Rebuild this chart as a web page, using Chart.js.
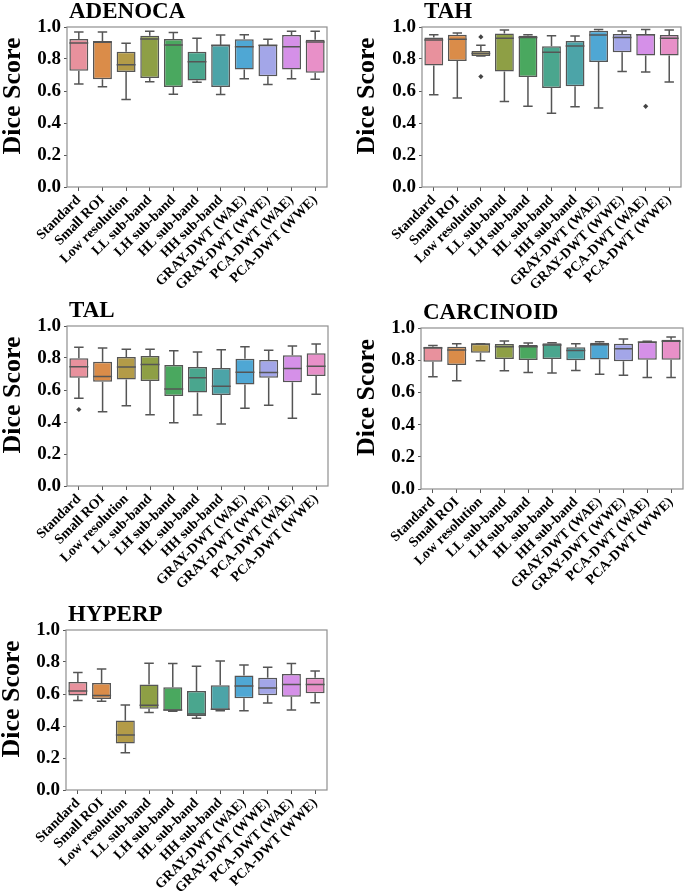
<!DOCTYPE html>
<html>
<head>
<meta charset="utf-8">
<script src="https://cdn.jsdelivr.net/npm/chart.js@4.4.1/dist/chart.umd.min.js"></script>
<style>
  html, body { margin: 0; padding: 0; background: #ffffff; }
  body { width: 685px; height: 895px; position: relative; overflow: hidden; }
  .panel { position: absolute; }
</style>
</head>
<body>
<div class="panel" id="pA" style="left:0px;top:0px;width:340px;height:300px;"><canvas id="cA"></canvas></div>
<div class="panel" id="pB" style="left:340px;top:0px;width:345px;height:300px;"><canvas id="cB"></canvas></div>
<div class="panel" id="pC" style="left:0px;top:299px;width:340px;height:300px;"><canvas id="cC"></canvas></div>
<div class="panel" id="pD" style="left:340px;top:301px;width:345px;height:300px;"><canvas id="cD"></canvas></div>
<div class="panel" id="pE" style="left:0px;top:603px;width:340px;height:292px;"><canvas id="cE"></canvas></div>
<script>
// ---------- data ----------
const categories = ['Standard','Small ROI','Low resolution','LL sub-band','LH sub-band','HL sub-band','HH sub-band','GRAY-DWT (WAE)','GRAY-DWT (WWE)','PCA-DWT (WAE)','PCA-DWT (WWE)'];
const yTicks = [0.0, 0.2, 0.4, 0.6, 0.8, 1.0];
const boxColors = ['#E8919D','#DA8C49','#B39B48','#8E9F45','#4AA85F','#4AA68E','#4CA4A8','#4FA7D4','#A3A6E8','#D590E8','#E890C8'];

const adenocaLow  = [0.644,0.627,0.547,0.658,0.580,0.654,0.578,0.677,0.640,0.677,0.673];
const adenocaQ1   = [0.727,0.673,0.718,0.681,0.625,0.665,0.625,0.735,0.692,0.735,0.714];
const adenocaMed  = [0.900,0.905,0.764,0.925,0.888,0.783,0.886,0.876,0.886,0.876,0.907];
const adenocaQ3   = [0.925,0.913,0.845,0.946,0.925,0.845,0.888,0.923,0.888,0.950,0.921];
const adenocaHigh = [0.969,0.969,0.899,0.973,0.965,0.930,0.950,0.952,0.923,0.973,0.973];
const adenocaOut  = [];

const tahLow  = [0.577,0.556,0.818,0.535,0.504,0.461,0.502,0.494,0.722,0.718,0.656];
const tahQ1   = [0.759,0.788,0.819,0.722,0.687,0.618,0.629,0.782,0.842,0.822,0.822];
const tahMed  = [0.919,0.923,0.835,0.929,0.934,0.842,0.882,0.950,0.934,0.952,0.929];
const tahQ3   = [0.934,0.952,0.850,0.959,0.946,0.880,0.913,0.977,0.956,0.956,0.950];
const tahHigh = [0.952,0.963,0.886,0.981,0.952,0.946,0.944,0.985,0.975,0.985,0.981];
const tahOut  = [{x:'Low resolution', y:0.938},{x:'Low resolution', y:0.690},{x:'PCA-DWT (WAE)', y:0.504}];

const talLow  = [0.549,0.464,0.501,0.445,0.395,0.443,0.387,0.486,0.505,0.424,0.574];
const talQ1   = [0.676,0.651,0.665,0.657,0.563,0.584,0.568,0.634,0.676,0.649,0.688];
const talMed  = [0.746,0.684,0.744,0.759,0.607,0.676,0.624,0.711,0.709,0.734,0.748];
const talQ3   = [0.798,0.776,0.807,0.813,0.757,0.744,0.738,0.796,0.788,0.817,0.830];
const talHigh = [0.867,0.863,0.854,0.854,0.846,0.838,0.852,0.871,0.848,0.875,0.888];
const talOut  = [{x:'Standard', y:0.478}];

const carcLow  = [0.697,0.672,0.797,0.734,0.724,0.720,0.736,0.712,0.707,0.693,0.693];
const carcQ1   = [0.790,0.770,0.846,0.807,0.801,0.807,0.799,0.805,0.793,0.803,0.803];
const carcMed  = [0.876,0.863,0.900,0.884,0.884,0.894,0.861,0.896,0.871,0.913,0.917];
const carcQ3   = [0.884,0.884,0.902,0.900,0.894,0.905,0.880,0.909,0.902,0.915,0.927];
const carcHigh = [0.892,0.902,0.902,0.919,0.907,0.909,0.902,0.915,0.932,0.917,0.944];
const carcOut  = [];

const hypLow  = [0.560,0.554,0.233,0.485,0.492,0.448,0.496,0.496,0.544,0.500,0.546];
const hypQ1   = [0.590,0.569,0.290,0.508,0.496,0.463,0.500,0.573,0.592,0.583,0.604];
const hypMed  = [0.619,0.590,0.344,0.529,0.500,0.475,0.504,0.650,0.638,0.660,0.660];
const hypQ3   = [0.675,0.669,0.435,0.660,0.642,0.619,0.654,0.715,0.702,0.725,0.702];
const hypHigh = [0.735,0.756,0.531,0.792,0.790,0.773,0.806,0.781,0.767,0.790,0.744];
const hypOut  = [];

// ---------- drawing ----------
const SERIF = '"Liberation Serif", "Times New Roman", serif';
const LINE = '#555555';
const FRAME = '#8f8f8f';

function boxPlugin(p) {
  return {
    id: 'boxparts_' + p.canvas,
    afterDatasetsDraw(chart) {
      const ctx = chart.ctx;
      const y = chart.scales.y;
      const meta = chart.getDatasetMeta(0);
      ctx.save();
      ctx.strokeStyle = LINE;
      ctx.lineWidth = 1.5;
      meta.data.forEach((bar, i) => {
        const props = bar.getProps(['x', 'width'], true);
        const cx = props.x, w = props.width;
        const yLow = y.getPixelForValue(p.low[i]);
        const yQ1 = y.getPixelForValue(p.q1[i]);
        const yQ3 = y.getPixelForValue(p.q3[i]);
        const yHigh = y.getPixelForValue(p.high[i]);
        const yMed = y.getPixelForValue(p.med[i]);
        ctx.beginPath();
        ctx.moveTo(cx, yQ1); ctx.lineTo(cx, yLow);
        ctx.moveTo(cx, yQ3); ctx.lineTo(cx, yHigh);
        ctx.moveTo(cx - w / 4, yLow); ctx.lineTo(cx + w / 4, yLow);
        ctx.moveTo(cx - w / 4, yHigh); ctx.lineTo(cx + w / 4, yHigh);
        ctx.moveTo(cx - w / 2, yMed); ctx.lineTo(cx + w / 2, yMed);
        ctx.stroke();
      });
      ctx.restore();
    },
    afterDraw(chart) {
      const ctx = chart.ctx;
      const a = chart.chartArea;
      ctx.save();
      ctx.strokeStyle = FRAME;
      ctx.lineWidth = 1.2;
      ctx.strokeRect(a.left, a.top, a.right - a.left, a.bottom - a.top);
      ctx.fillStyle = '#000';
      ctx.font = 'bold 23px ' + SERIF;
      ctx.textAlign = 'left';
      ctx.textBaseline = 'alphabetic';
      ctx.fillText(p.title, a.left + 2, a.top - 9);
      ctx.font = 'bold 26px ' + SERIF;
      ctx.textAlign = 'center';
      ctx.textBaseline = 'middle';
      ctx.translate(p.ylabelX, (a.top + a.bottom) / 2 - 11);
      ctx.rotate(-Math.PI / 2);
      ctx.fillText('Dice Score', 0, 0);
      ctx.restore();
    }
  };
}

function makePanel(p) {
  new Chart(document.getElementById(p.canvas), {
    type: 'bar',
    data: {
      labels: categories,
      datasets: [
        {
          type: 'bar',
          data: p.q1.map((v, i) => [v, p.q3[i]]),
          backgroundColor: boxColors,
          borderColor: LINE,
          borderWidth: 1.5,
          borderSkipped: false,
          barPercentage: 0.8,
          categoryPercentage: 1.0,
          order: 2
        },
        {
          type: 'scatter',
          data: p.out,
          pointStyle: 'rectRot',
          pointRadius: 2.6,
          backgroundColor: '#444444',
          borderColor: '#444444',
          borderWidth: 0,
          order: 1
        }
      ]
    },
    options: {
      responsive: true,
      maintainAspectRatio: false,
      animation: false,
      layout: { padding: { top: 27, right: p.padRight, left: 0, bottom: 0 } },
      plugins: { legend: { display: false }, tooltip: { enabled: false }, title: { display: false } },
      scales: {
        x: {
          type: 'category',
          offset: true,
          grid: { display: true, drawOnChartArea: false, drawTicks: true, tickLength: 4, color: LINE, offset: false },
          border: { display: false },
          ticks: {
            maxRotation: 45, minRotation: 45, autoSkip: false, padding: 1,
            color: '#000',
            font: { family: SERIF, size: 14, weight: 'bold' }
          },
          afterFit(scale) { scale.height = p.xAxisH; }
        },
        y: {
          min: 0, max: 1,
          afterBuildTicks(scale) { scale.ticks = yTicks.map(v => ({ value: v })); },
          grid: { display: true, drawOnChartArea: false, drawTicks: true, tickLength: 3, color: LINE },
          border: { display: false },
          ticks: {
            padding: 3,
            color: '#000',
            font: { family: SERIF, size: 19, weight: 'bold' },
            callback: v => Number(v).toFixed(1)
          },
          afterFit(scale) { scale.width = p.yAxisW; }
        }
      }
    },
    plugins: [boxPlugin(p)]
  });
}

makePanel({ canvas: 'cA', title: 'ADENOCA', low: adenocaLow, q1: adenocaQ1, med: adenocaMed, q3: adenocaQ3, high: adenocaHigh, out: adenocaOut,
  yAxisW: 67, padRight: 13, xAxisH: 113, ylabelX: 13 });
makePanel({ canvas: 'cB', title: 'TAH', low: tahLow, q1: tahQ1, med: tahMed, q3: tahQ3, high: tahHigh, out: tahOut,
  yAxisW: 82, padRight: 4, xAxisH: 113, ylabelX: 27 });
makePanel({ canvas: 'cC', title: 'TAL', low: talLow, q1: talQ1, med: talMed, q3: talQ3, high: talHigh, out: talOut,
  yAxisW: 67, padRight: 12, xAxisH: 113, ylabelX: 13 });
makePanel({ canvas: 'cD', title: 'CARCINOID', low: carcLow, q1: carcQ1, med: carcMed, q3: carcQ3, high: carcHigh, out: carcOut,
  yAxisW: 81, padRight: 2, xAxisH: 112, ylabelX: 27 });
makePanel({ canvas: 'cE', title: 'HYPERP', low: hypLow, q1: hypQ1, med: hypMed, q3: hypQ3, high: hypHigh, out: hypOut,
  yAxisW: 66, padRight: 13, xAxisH: 105, ylabelX: 12 });
</script>
</body>
</html>
